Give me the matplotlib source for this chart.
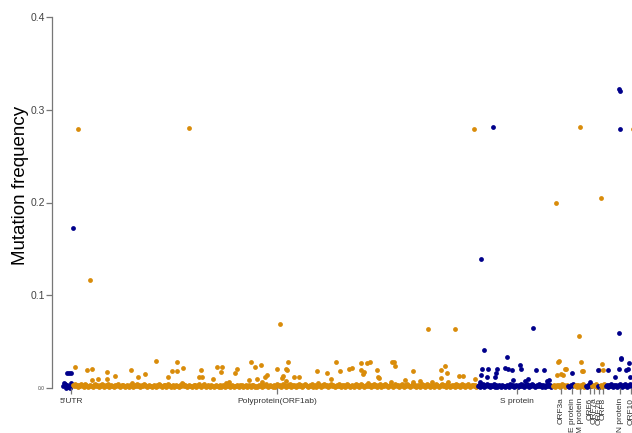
import numpy as np
import matplotlib
matplotlib.use("Agg")
import matplotlib.pyplot as plt

plt.rcParams['font.family'] = ['Liberation Sans', 'DejaVu Sans']

# site index along the plotted genome order (one unit per plotted site slot)
genes = ["5'UTR", "ORF1ab", "S", "ORF3a", "E", "M", "ORF6", "ORF7a", "ORF7b", "ORF8", "N"]
gene_start = [63, 73, 478, 553, 568, 575, 586, 592, 598, 601, 606]
gene_end = [71, 477, 552, 567, 573, 585, 591, 597, 600, 605, 631]
gene_colour = ["blue", "orange", "blue", "orange", "blue", "orange",
               "blue", "orange", "blue", "orange", "blue"]

# low-frequency background sites, in thousandths, one digit per site
baseline = [
    "254031205",
    "32423132432143212322"
    "13423213243123241232"
    "21323421233212321325"
    "12324231232432123221"
    "23213243212331243212"
    "31232213254232123221"
    "23312342123421232132"
    "21232213123215232123"
    "21223213231223123213"
    "32121232312234212322"
    "13124323124321232413"
    "23213242312343212324"
    "12312532132432312342"
    "32123242132312432123"
    "21342312432123252313"
    "24231234123243212332"
    "12432312342132432123"
    "42312321342312432132"
    "31243212342321432123"
    "23142321342312342123"
    "32312",
    "23132412342313224131232132212321432312"
    "3213242312342132432123242313213242312",
    "2313231243123",
    "21324",
    "23132132412",
    "213242",
    "23241",
    "212",
    "31242",
    "23132421323123421324312342",
]

# higher-frequency sites
orange_x = [78, 189, 90, 280, 428, 455, 474,
            75, 87, 92, 92, 98, 107, 107, 115, 131, 138, 145, 156,
            177, 172, 177, 183, 168, 201, 199, 202, 213, 217, 222, 221, 237, 235, 229,
            251, 255, 261, 249, 257, 265, 267, 262,
            277, 288, 286, 287, 283, 282, 286, 294, 299, 317, 327, 331, 336, 340,
            349, 352, 361, 367, 361, 363, 364,
            370, 392, 394, 395, 377, 378, 379, 391, 405, 413, 413, 420, 432,
            441, 445, 441, 447, 448, 459, 463, 475,
            556, 558, 559, 566, 565, 563, 557, 561,
            580, 579, 581, 582, 583,
            601, 602, 599, 603,
            633]
orange_f = [0.279, 0.280, 0.116, 0.069, 0.064, 0.064, 0.279,
            0.023, 0.019, 0.021, 0.009, 0.010, 0.017, 0.010, 0.013, 0.019, 0.012, 0.015, 0.029,
            0.028, 0.018, 0.018, 0.022, 0.012, 0.019, 0.012, 0.012, 0.010, 0.023, 0.023, 0.017, 0.021, 0.016, 0.007,
            0.028, 0.023, 0.025, 0.009, 0.010, 0.012, 0.014, 0.006,
            0.020, 0.028, 0.021, 0.019, 0.013, 0.011, 0.008, 0.012, 0.012, 0.018, 0.016, 0.010, 0.028, 0.018,
            0.021, 0.022, 0.027, 0.027, 0.019, 0.015, 0.017,
            0.028, 0.028, 0.028, 0.024, 0.019, 0.012, 0.011, 0.007, 0.009, 0.018, 0.007, 0.008, 0.006,
            0.019, 0.024, 0.011, 0.016, 0.007, 0.013, 0.013, 0.010,
            0.199, 0.028, 0.029, 0.020, 0.021, 0.014, 0.014, 0.015,
            0.281, 0.056, 0.028, 0.018, 0.018,
            0.205, 0.026, 0.019, 0.019,
            0.279]

blue_x = [73, 67, 69, 71,
          493, 481, 533, 484, 507, 482, 488, 497, 496, 495, 505, 508, 512, 520, 521,
          536, 544, 528, 525, 513, 487, 549, 547, 481, 480,
          572, 590, 598,
          619, 620, 620, 619, 621, 629, 608, 619, 626, 621, 615, 630, 628]
blue_f = [0.172, 0.016, 0.016, 0.016,
          0.281, 0.139, 0.065, 0.041, 0.033, 0.020, 0.020, 0.021, 0.016, 0.012, 0.022, 0.020, 0.019, 0.025, 0.020,
          0.019, 0.019, 0.010, 0.008, 0.009, 0.012, 0.009, 0.008, 0.014, 0.006,
          0.016, 0.006, 0.019,
          0.322, 0.320, 0.279, 0.059, 0.032, 0.027, 0.019, 0.020, 0.019, 0.031, 0.012, 0.012, 0.020]

tick_pos = [71, 277, 517, 561, 572, 580, 590, 594, 599, 603, 620, 631]
tick_labels = ["5'UTR", "Polyprotein(ORF1ab)", "S protein", "ORF3a", "E protein",
               "M protein", "ORF6", "ORF7a", "ORF7b", "ORF8", "N protein", "ORF10"]

colours = {"orange": "#D98C0A", "blue": "#00008B"}

fig = plt.figure(figsize=(6.32, 4.33), dpi=100)
ax = fig.add_axes([52 / 632, 45 / 433, 580 / 632, 371 / 433])

for start, end, col, digits in zip(gene_start, gene_end, gene_colour, baseline):
    vals = np.array([int(d) for d in digits]) / 1000
    xs = np.linspace(start, end, len(vals))
    ax.scatter(xs, vals, s=12, color=colours[col], linewidths=0, clip_on=False)

ax.scatter(orange_x, orange_f, s=12, color=colours["orange"], linewidths=0, clip_on=False)
ax.scatter(blue_x, blue_f, s=12, color=colours["blue"], linewidths=0, clip_on=False)

ax.set_xlim(52, 632)
ax.set_ylim(0, 0.4)

for side in ["top", "right", "bottom"]:
    ax.spines[side].set_visible(False)
ax.spines["left"].set_color("#777777")
ax.spines["left"].set_linewidth(0.9)
ax.spines["left"].set_bounds(0, 0.4)

ax.set_yticks([0.0, 0.1, 0.2, 0.3, 0.4])
ax.set_yticklabels(["0.0", "0.1", "0.2", "0.3", "0.4"])
ax.tick_params(axis="y", colors="#777777", labelcolor="#444444", labelsize=7.5, length=4, width=0.9, pad=1)
ax.get_yticklabels()[0].set_fontsize(3.5)

ax.set_xticks(tick_pos)
ax.set_xticklabels(tick_labels)
ax.tick_params(axis="x", colors="#777777", labelcolor="#333333", labelsize=6, length=4.5, width=0.9, pad=2.5)
for lab in ax.get_xticklabels()[3:]:
    lab.set_rotation(90)

fig.text(21 / 632, 1 - 185 / 433, "Mutation frequency", rotation=90,
         ha="center", va="center", fontsize=13.5, color="black")

fig.savefig("out.png", dpi=100)
